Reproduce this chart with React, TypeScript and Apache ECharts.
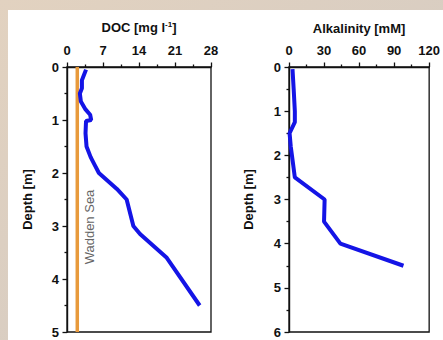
import React, { useEffect, useRef } from "react";
import * as echarts from "echarts";

const docDepth = [0.05, 0.25, 0.4, 0.5, 0.65, 0.8, 0.9, 1.0, 1.02, 1.25, 1.5, 1.7, 1.85, 2.0, 2.3, 2.5, 3.0, 3.15, 3.6, 4.5];
const docValues = [3.7, 2.9, 2.9, 2.5, 2.7, 3.6, 4.5, 4.7, 3.7, 3.6, 3.8, 4.6, 5.4, 6.2, 9.7, 11.6, 12.9, 14.2, 19.4, 25.8];
const waddenDepth = [0, 5];
const waddenValues = [2, 2];
const alkDepth = [0.05, 0.5, 1.0, 1.25, 1.5, 1.8, 2.0, 2.5, 3.0, 3.5, 4.0, 4.5];
const alkValues = [3, 4, 5, 5, 0.5, 1.5, 2.5, 5, 30.5, 30, 44, 98];

const docTicks = { min: 0, max: 28, interval: 7 };
const alkTicks = { min: 0, max: 120, interval: 30 };

const FONT = "'Liberation Sans', Arial, sans-serif";

export default function App() {
  const ref = useRef<HTMLDivElement>(null);
  useEffect(() => {
    if (!ref.current) return;
    const chart = echarts.init(ref.current, undefined, { renderer: "svg" });
    const label = { fontFamily: FONT, fontWeight: "bold" as const, fontSize: 13, color: "#111" };
    const axisLine = { show: true, lineStyle: { color: "#111", width: 1.4 } };
    const tick = { show: true, inside: false, length: 4.5, lineStyle: { color: "#111", width: 1.3 } };
    const minorTick = { show: true, splitNumber: 2, length: 2.5, lineStyle: { color: "#111", width: 1.3 } };
    const xAx = (t: { min: number; max: number; interval: number }, name: string, gi: number) => ({
      type: "value",
      gridIndex: gi,
      position: "top",
      min: t.min,
      max: t.max,
      interval: t.interval,
      name,
      nameLocation: "middle",
      nameGap: 32,
      nameTextStyle: {
        fontFamily: FONT,
        fontWeight: "bold",
        fontSize: 13,
        color: "#111",
        rich: { sup: { fontFamily: FONT, fontWeight: "bold", fontSize: 8, color: "#111", verticalAlign: "top", padding: [0, 0, 7, 0] } },
      },
      axisLine,
      axisTick: tick,
      minorTick,
      splitLine: { show: false },
      axisLabel: { ...label, margin: 10 },
    });
    const yAx = (max: number, gi: number, gap: number) => ({
      type: "value",
      gridIndex: gi,
      inverse: true,
      min: 0,
      max,
      interval: 1,
      name: "Depth [m]",
      nameLocation: "middle",
      nameGap: gap,
      nameTextStyle: { fontFamily: FONT, fontWeight: "bold", fontSize: 13, color: "#111" },
      axisLine,
      axisTick: tick,
      minorTick,
      splitLine: { show: false },
      axisLabel: { ...label, margin: 8 },
    });
    const zip = (xs: number[], ys: number[]) => xs.map((x, i) => [x, ys[i]]);
    chart.setOption({
      animation: false,
      backgroundColor: {
        type: "linear", x: 0, y: 0, x2: 1, y2: 1,
        colorStops: [
          { offset: 0, color: "#e2d2c0" },
          { offset: 0.6, color: "#d8cdc2" },
          { offset: 1, color: "#c8c2bc" },
        ],
      },
      graphic: [
        { type: "rect", shape: { x: 8, y: 10, width: 440, height: 335 }, style: { fill: "#ffffff" }, z: -10 },
        {
          type: "text", x: 89, y: 227, rotation: Math.PI / 2,
          style: { text: "Wadden Sea", fontFamily: FONT, fontSize: 13, fill: "#666", align: "center", verticalAlign: "middle" },
          z: 10,
        },
      ],
      grid: [
        { left: 67, top: 67, width: 144, height: 265, show: true, borderColor: "#111", borderWidth: 1.3, backgroundColor: "transparent" },
        { left: 289, top: 67, width: 148, height: 265, show: true, borderColor: "#111", borderWidth: 1.3, backgroundColor: "transparent" },
      ],
      xAxis: [xAx(docTicks, "DOC [mg l{sup|-1}]", 0), xAx(alkTicks, "Alkalinity [mM]", 1)],
      yAxis: [yAx(5, 0, 33), yAx(6, 1, 34)],
      series: [
        {
          type: "line", xAxisIndex: 0, yAxisIndex: 0, showSymbol: false,
          data: zip(waddenValues, waddenDepth),
          lineStyle: { color: "#e89a3c", width: 3.5 },
        },
        {
          type: "line", xAxisIndex: 0, yAxisIndex: 0, showSymbol: false,
          data: zip(docValues, docDepth),
          lineStyle: { color: "#1414e6", width: 4 },
        },
        {
          type: "line", xAxisIndex: 1, yAxisIndex: 1, showSymbol: false,
          data: zip(alkValues, alkDepth),
          lineStyle: { color: "#1414e6", width: 4 },
        },
      ],
    });
    return () => chart.dispose();
  }, []);
  return <div ref={ref} style={{ position: "absolute", left: 0, top: 0, width: 443, height: 340 }} />;
}
